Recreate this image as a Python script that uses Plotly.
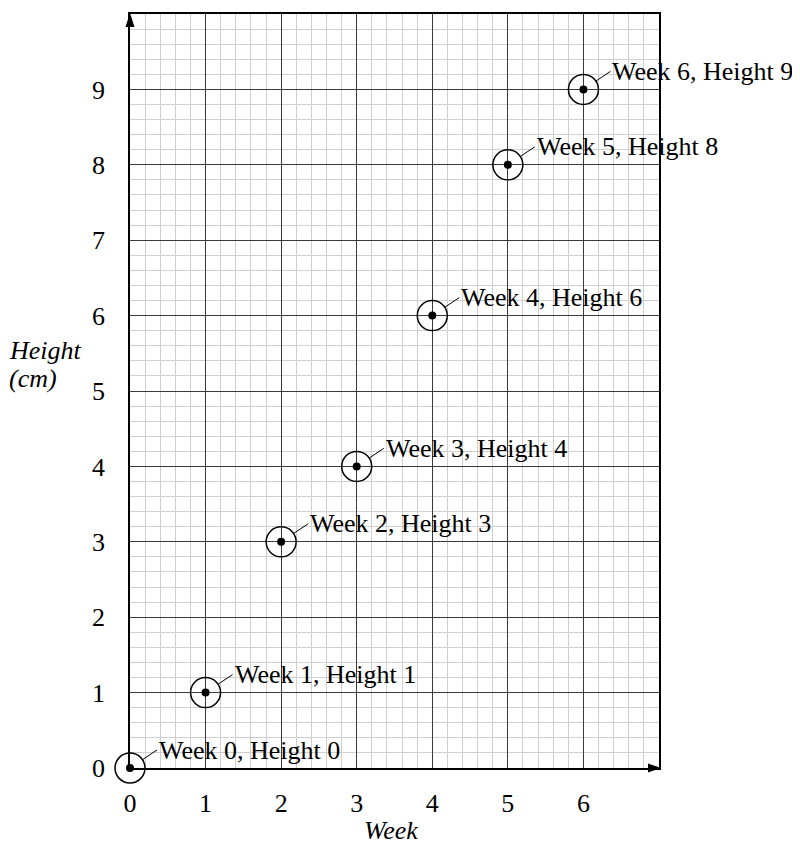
import plotly.graph_objects as go

weeks = [0, 1, 2, 3, 4, 5, 6]
heights = [0, 1, 3, 4, 6, 8, 9]
labels = [f"Week {w}, Height {h}" for w, h in zip(weeks, heights)]
x_ticks = [0, 1, 2, 3, 4, 5, 6]
y_ticks = [0, 1, 2, 3, 4, 5, 6, 7, 8, 9]

FONT = "Liberation Serif"
FS = 26

fig = go.Figure()
fig.add_trace(go.Scatter(x=weeks, y=heights, mode="markers", cliponaxis=False,
                         marker=dict(symbol="circle-open", size=30, color="black",
                                     line=dict(width=1.5, color="black")),
                         hoverinfo="skip"))
fig.add_trace(go.Scatter(x=weeks, y=heights, mode="markers", cliponaxis=False,
                         marker=dict(symbol="circle", size=8, color="black"),
                         hoverinfo="skip"))

for w, h, t in zip(weeks, heights, labels):
    fig.add_annotation(x=w, y=h, xref="x", yref="y", text=t, showarrow=True,
                       ax=27, ay=-18, axref="pixel", ayref="pixel",
                       xanchor="left", yanchor="middle", arrowhead=0,
                       arrowwidth=1, arrowcolor="black", standoff=15,
                       font=dict(family=FONT, size=FS, color="black"))

fig.add_annotation(xref="paper", yref="y", x=0, y=5.54, xanchor="left", xshift=-123,
                   text="<i>Height</i>", showarrow=False, align="left",
                   font=dict(family=FONT, size=FS, color="black"))
fig.add_annotation(xref="paper", yref="y", x=0, y=5.17, xanchor="left", xshift=-123,
                   text="<i>(cm)</i>", showarrow=False, align="left",
                   font=dict(family=FONT, size=FS, color="black"))
fig.add_annotation(xref="x", yref="paper", x=3.45, y=0, yanchor="top", yshift=-46,
                   text="<i>Week</i>", showarrow=False,
                   font=dict(family=FONT, size=FS, color="black"))

# arrowheads on axes
fig.add_shape(type="path", xref="paper", yref="paper", xsizemode="pixel", ysizemode="pixel",
              xanchor=0, yanchor=1, path="M -4.5,-13 L 0,1 L 4.5,-13 Z",
              fillcolor="black", line=dict(width=0))
fig.add_shape(type="path", xref="paper", yref="paper", xsizemode="pixel", ysizemode="pixel",
              xanchor=1, yanchor=0, path="M -11,-4.5 L 2,0 L -11,4.5 Z",
              fillcolor="black", line=dict(width=0))

axis_common = dict(showline=True, linecolor="black", linewidth=1.5, mirror=True,
                   zeroline=False, showgrid=True, gridcolor="#3a3a3a", gridwidth=1,
                   ticks="", tickfont=dict(family=FONT, size=FS, color="black"),
                   fixedrange=True)
fig.update_xaxes(range=[0, 7], tickvals=x_ticks, dtick=1,
                 minor=dict(dtick=0.2, showgrid=True, gridcolor="#cfcfcf", gridwidth=1),
                 ticklabelstandoff=11, **axis_common)
fig.update_yaxes(range=[0, 10], tickvals=y_ticks, dtick=1,
                 minor=dict(dtick=0.2, showgrid=True, gridcolor="#cfcfcf", gridwidth=1),
                 ticklabelstandoff=18, **axis_common)

fig.update_layout(width=800, height=844, showlegend=False,
                  plot_bgcolor="white", paper_bgcolor="white",
                  margin=dict(l=122, r=149, t=4, b=84),
                  font=dict(family=FONT, size=FS, color="black"))

fig.write_html("out.html")
